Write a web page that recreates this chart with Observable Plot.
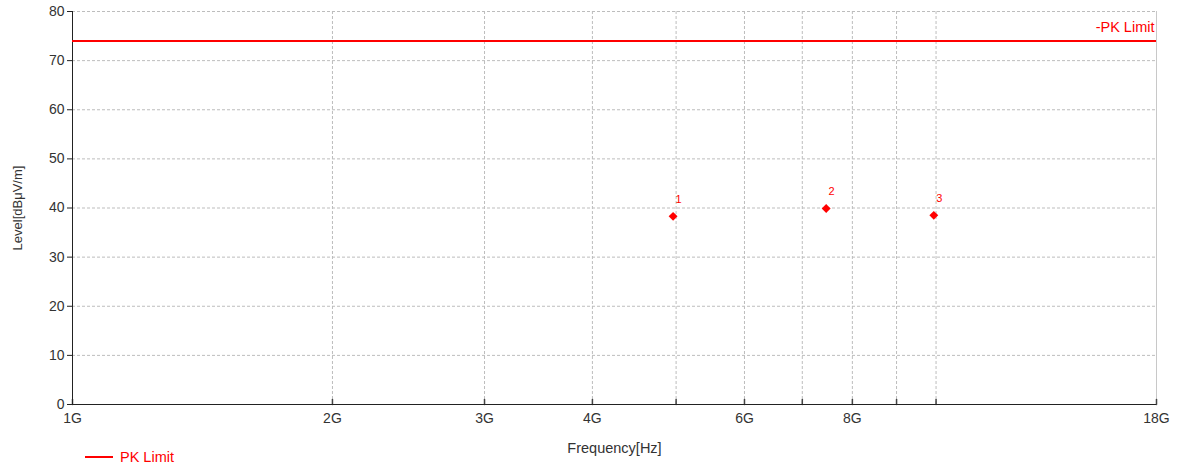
<!DOCTYPE html>
<html><head><meta charset="utf-8">
<script src="https://cdn.jsdelivr.net/npm/d3@7"></script>
<script src="https://cdn.jsdelivr.net/npm/@observablehq/plot@0.6"></script>
<style>
body{margin:0;background:#fff;font-family:"Liberation Sans",Arial,sans-serif}
#legend{position:relative;height:18px;font-size:14.5px;color:#f00}
#legend .sw{position:absolute;left:85px;top:6px;width:28px;height:2px;background:#f00}
#legend .lb{position:absolute;left:120px;top:-1px;line-height:16px}
</style>
</head><body><div id="chart"></div><div id="legend"><span class="sw"></span><span class="lb"></span></div><script>
const markerIds = ["1", "2", "3"];
const markerFreqs = [4.96e9, 7.46e9, 9.94e9];
const markerLevels = [38.3, 39.9, 38.5];
const limitName = "PK Limit";
const limitLevel = 74;
const freqDomain = [1e9, 18e9];
const levelDomain = [0, 80];
const xTicks = [1e9, 2e9, 3e9, 4e9, 5e9, 6e9, 7e9, 8e9, 9e9, 10e9, 18e9];
const xTickLabels = {1e9: "1G", 2e9: "2G", 3e9: "3G", 4e9: "4G", 6e9: "6G", 8e9: "8G", 18e9: "18G"};
const yTicks = [0, 10, 20, 30, 40, 50, 60, 70, 80];
const xLabel = "Frequency[Hz]";
const yLabel = "Level[dBμV/m]";

const markers = markerIds.map((id, i) => ({id, f: markerFreqs[i], v: markerLevels[i]}));
const tickShape = {draw(ctx, l) { ctx.moveTo(0, 0); ctx.lineTo(0, -l); }};
const gridStyle = {stroke: "#bdbdbd", strokeOpacity: 1, strokeDasharray: "3,2"};

const chart = Plot.plot({
  width: 1177, height: 450,
  marginLeft: 72, marginRight: 21, marginTop: 11, marginBottom: 46,
  style: {fontFamily: '"Liberation Sans", Arial, sans-serif', fontSize: "14px", color: "#333", background: "#fff", overflow: "visible"},
  x: {type: "log", domain: freqDomain},
  y: {domain: levelDomain},
  marks: [
    Plot.gridX(xTicks, gridStyle),
    Plot.gridY(yTicks, gridStyle),
    Plot.ruleX([freqDomain[1]], {stroke: "#c8c8c8"}),
    Plot.axisY({ticks: yTicks, tickSize: 5, tickPadding: 3, stroke: "#222", label: null, fontSize: 14}),
    Plot.axisY({ticks: [], tickSize: 0, label: yLabel, labelAnchor: "center", labelOffset: 60, labelArrow: "none", fontSize: 13}),
    Plot.axisX({ticks: xTicks, tickFormat: d => xTickLabels[d] ?? "", tickSize: 0, tickPadding: 9, label: null, fontSize: 14}),
    Plot.axisX({ticks: [], tickSize: 0, label: xLabel, labelAnchor: "center", labelOffset: 48, labelArrow: "none", fontSize: 14.5}),
    Plot.vector(xTicks, {x: d => d, y: () => levelDomain[0], length: 5, anchor: "start", shape: tickShape, stroke: "#444"}),
    Plot.ruleY([levelDomain[0]], {stroke: "#222"}),
    Plot.ruleX([freqDomain[0]], {stroke: "#222"}),
    Plot.ruleY([limitLevel], {stroke: "#ff0000", strokeWidth: 2}),
    Plot.text(["-" + limitName], {x: () => freqDomain[1], y: () => limitLevel, textAnchor: "end", dx: -2, dy: -14, fill: "#ff0000", fontSize: 14.5}),
    Plot.dot(markers, {x: "f", y: "v", symbol: "diamond2", r: 4, fill: "#ff0000", stroke: "none"}),
    Plot.text(markers, {x: "f", y: "v", text: "id", dx: 5.5, dy: -17, fill: "#ff0000", fontSize: 11})
  ]
});
document.getElementById("chart").appendChild(chart);
document.querySelector("#legend .lb").textContent = limitName;
</script></body></html>
